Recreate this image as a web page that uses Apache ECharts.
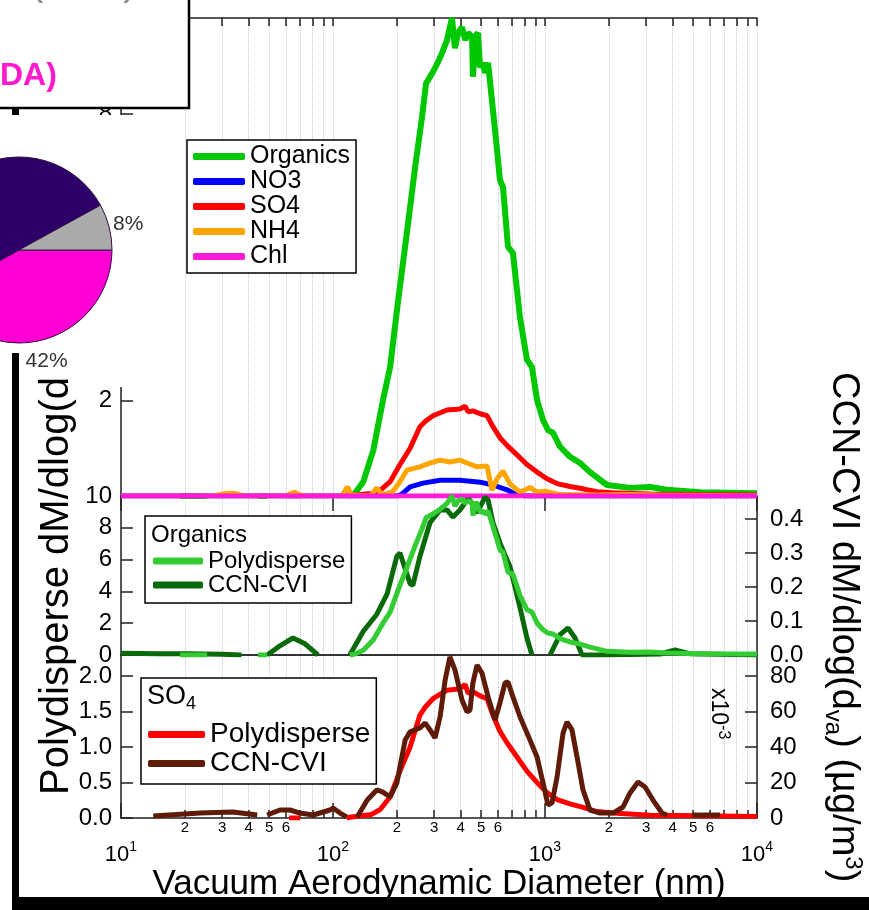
<!DOCTYPE html>
<html><head><meta charset="utf-8">
<script src="https://cdn.jsdelivr.net/npm/echarts@6/dist/echarts.min.js"></script>
<style>html,body{margin:0;padding:0;background:#fff}#c{width:869px;height:910px}</style>
</head><body><div id="c"></div>
<script>
// ---------- data (diameters in nm) ----------
const organicsD = [19,25.5,35,44.3,48.9,80,120,127,139,155,172,186,203,223,244,263,275,281,296,313,327,345,364,376,389,406,420,434,453,457,473,483,494,510,521,539,562,594,613,634,669,706,762,822,868,917,979,1033,1091,1178,1312,1463,1630,1960,2518,3128,3758,5383,10000];
const organicsV = [0,0,null,0,0,null,0,0.06,0.3,0.96,2.0,2.7,4.1,5.5,6.88,7.93,8.64,8.7,8.87,9.08,9.27,9.54,10.0,9.37,9.69,9.81,9.54,9.69,9.6,8.77,9.64,9.69,8.97,9.06,8.85,9.06,8.28,7.24,6.61,6.46,5.21,5.08,3.74,2.85,2.7,2.01,1.59,1.38,1.32,1.03,0.82,0.69,0.5,0.23,0.17,0.19,0.13,0.08,0.06];

const no3D = [10,200,207,214,231,266,320,397,494,568,662,738,800,10000];
const no3V = [0,0,0.02,0.06,0.19,0.27,0.33,0.33,0.29,0.23,0.13,0.02,0,0];

const so4D = [62,70,80,116,120,152,167,186,207,231,257,272,296,345,397,420,434,457,494,533,568,613,662,738,822,917,1021,1140,1312,1511,1759,2094,3128,5383,10000];
const so4V = [0,0,null,0,0.01,0.05,0.12,0.3,0.66,1.0,1.45,1.56,1.68,1.8,1.82,1.88,1.76,1.78,1.72,1.68,1.45,1.22,1.06,0.86,0.66,0.5,0.36,0.26,0.2,0.15,0.09,0.07,0.04,0.03,0.02];

const nh4D = [10,27,30,33,35,38,60,63,66,70,75,110,117,122,150,161,170,190,207,223,257,287,320,356,397,429,478,533,562,594,634,684,762,849,917,1000,1178,1759,2500,3500,10000];
const nh4V = [0,0,0.04,0.06,0.05,0,0,0.05,0.08,0.02,0,0,0.19,0.02,0,0.17,0.03,0.08,0.3,0.54,0.61,0.69,0.75,0.71,0.75,0.69,0.61,0.63,0.12,0.36,0.52,0.25,0.08,0.18,0.08,0.1,0.03,0.02,0.03,0.02,0];

const chlD = [10,100,1000,10000];
const chlV = [0,0,0,0];

const cvOrgD = [10,15,20,30,37,41,49,56.2,64.7,73.8,85,100,120,139,161,180,200,207,231,238,257,287,320,345,368,397,429,443,478,521,539,568,613,684,762,822,868,950,1056,1178,1284,1386,1496,1817,3500,4100,4800,10000];
const cvOrgV = [0.005,0.004,0.004,0.002,0,null,0,0.027,0.05,0.033,0,null,0,0.07,0.12,0.18,0.29,0.3,0.21,0.205,0.29,0.39,0.427,0.427,0.406,0.427,0.456,0.456,0.418,0.465,0.456,0.39,0.33,0.26,0.14,0.05,0,null,0,0.06,0.08,0.05,0,0,0.003,0.015,0.004,0];

const cvSo4D = [14.2,23.6,33.7,43.9,46,48.9,56.2,62.7,69.8,80.5,96.8,100,108,116,123,130,145,161,172,186,200,219,231,257,272,287,303,320,338,356,376,406,429,443,457,478,504,539,581,613,648,669,706,762,849,917,979,1033,1079,1140,1217,1271,1341,1416,1511,1630,1817,2094,2334,2518,2748,2965,3231,3563,3758,4300,4932,6685];
const cvSo4V = [1.1,2.8,3.4,1.7,null,1.7,4.5,4.5,2.8,1.7,4.5,5.6,2.8,0.6,null,0.6,10.1,15.8,14.6,11.8,19.7,43.9,48.5,50.7,53.5,49.6,45.1,57.0,77.7,90.7,83.4,66.5,59.7,60.8,76.1,86.2,81.7,68.2,55.2,64.8,76.1,76.6,68.2,57.0,44.0,34.4,19.7,7.3,8.5,23.1,47.9,54.1,49.6,34.4,15.8,4.5,2.8,2.8,6.2,14.1,20.3,17.5,10.1,2.8,1.7,null,1.7,1.7];

const pieNames = ['Factor 1','Factor 2','Factor 3'];
const pieValues = [42, 50, 8];

// axis tick positions (nm)
const tickNm = [10,20,30,40,50,60,70,80,90,100,200,300,400,500,600,700,800,900,1000,2000,3000,4000,5000,6000,7000,8000,9000,10000];
const minorLabelNm = [20,30,40,50,60,200,300,400,500,600,2000,3000,4000,5000,6000];
const majorNm = [10,100,1000,10000];

// ---------- helpers ----------
const FONT = '"Liberation Sans", Arial, sans-serif';
const lg = v => Math.log10(v);
const mk = (D, V) => D.map((d, i) => [lg(d), V[i] == null ? '-' : V[i]]);
const tickVals = tickNm.map(lg);
const minorVals = minorLabelNm.map(lg);
const majorVals = majorNm.map(lg);

const axisCol = '#222';
const xBase = (grid, pos) => ({type: 'value', gridIndex: grid, position: pos, min: 1, max: 4,
  axisLine: {show: false}, axisTick: {show: false}, axisLabel: {show: false}, splitLine: {show: false}});
const gridSplit = {show: true, lineStyle: {color: '#c8c8d0', type: 'dotted', width: 1}};

const yBase = (grid, pos, min, max, interval, fmt, margin) => ({
  type: 'value', gridIndex: grid, position: pos, min: min, max: max, interval: interval,
  axisLine: {show: true, lineStyle: {color: axisCol, width: 1.5}},
  axisTick: {show: true, inside: true, length: 12, lineStyle: {color: axisCol, width: 1.5}},
  axisLabel: {fontSize: 24, color: '#000', margin: margin, formatter: fmt, showMaxLabel: false, fontFamily: FONT},
  splitLine: {show: false}
});

const line = (name, x, y, D, V, color, w) => ({
  name: name, type: 'line', xAxisIndex: x, yAxisIndex: y, data: mk(D, V),
  showSymbol: false, symbol: 'none', connectNulls: false,
  lineStyle: {color: color, width: w || 5}, itemStyle: {color: color}, emphasis: {disabled: true}
});

const C = {org: '#00c800', no3: '#0000ff', so4: '#ff0000', nh4: '#ffa500', chl: '#ff1ad9',
  poly: '#33cc33', cvOrg: '#0a6a0a', cvSo4: '#5e1c08'};

const chart = echarts.init(document.getElementById('c'), null, {renderer: 'canvas'});
const option = {
  animation: false,
  backgroundColor: '#fff',
  textStyle: {fontFamily: FONT},
  grid: [
    {left: 121, top: 18, width: 636, height: 478},
    {left: 121, top: 496, width: 636, height: 159},
    {left: 121, top: 655, width: 636, height: 163}
  ],
  xAxis: [
    Object.assign(xBase(0, 'top'), {axisLine: {show: true, onZero: false, lineStyle: {color: axisCol, width: 1.5}},
      axisTick: {show: true, inside: true, length: 8, customValues: tickVals, lineStyle: {color: axisCol, width: 1.5}},
      splitLine: gridSplit}),
    Object.assign(xBase(0, 'top'), {axisTick: {show: true, inside: true, length: 15, customValues: majorVals, lineStyle: {color: axisCol, width: 1.5}}}),
    Object.assign(xBase(1, 'bottom'), {axisLine: {show: true, onZero: false, lineStyle: {color: '#333', width: 2}},
      axisTick: {show: false, customValues: tickVals}, splitLine: gridSplit}),
    Object.assign(xBase(2, 'bottom'), {axisLine: {show: true, onZero: false, lineStyle: {color: axisCol, width: 1.5}},
      axisTick: {show: true, inside: true, length: 8, customValues: tickVals, lineStyle: {color: axisCol, width: 1.5}},
      axisLabel: {show: true, customValues: minorVals, fontSize: 15, color: '#000', margin: 2,
        formatter: v => String(Math.round(Math.pow(10, v - Math.floor(v + 1e-9))))},
      splitLine: gridSplit}),
    Object.assign(xBase(2, 'bottom'), {
      axisTick: {show: true, inside: true, length: 15, customValues: majorVals, lineStyle: {color: axisCol, width: 1.5}},
      axisLabel: {show: true, customValues: majorVals, margin: 22, color: '#000',
        formatter: v => '{b|10}{s|' + Math.round(v) + '}',
        rich: {b: {fontSize: 22, lineHeight: 30, color: '#000', fontFamily: FONT},
               s: {fontSize: 14, lineHeight: 14, verticalAlign: 'top', color: '#000', fontFamily: FONT}}},
      name: 'Vacuum Aerodynamic Diameter (nm)', nameLocation: 'middle', nameGap: 44,
      nameTextStyle: {fontSize: 35, color: '#000', fontFamily: FONT}})
  ],
  yAxis: [
    yBase(0, 'left', 0, 10, 2, v => (v === 0 ? '' : String(v)), 9),
    Object.assign(yBase(1, 'left', 0, 10, 2, v => String(v), 9), {axisLabel: {fontSize: 24, color: '#000', margin: 9, fontFamily: FONT}}),
    yBase(1, 'right', 0, 0.468, 0.1, v => v.toFixed(1), 13),
    yBase(2, 'left', 0, 2.296, 0.5, v => v.toFixed(1), 9),
    yBase(2, 'right', 0, 91.8, 20, v => String(v), 13)
  ],
  legend: [
    {data: ['Organics', 'NO3', 'SO4', 'NH4', 'Chl'], left: 187, top: 140, orient: 'vertical',
     icon: 'roundRect', itemWidth: 52, itemHeight: 7, itemGap: 0, selectedMode: false,
     textStyle: {fontSize: 25, lineHeight: 25, color: '#000', fontFamily: FONT},
     padding: [4, 6, 4, 6], borderColor: '#000', borderWidth: 1.5, backgroundColor: '#fff'},
    {data: [{name: 'Polydisperse', itemStyle: {color: C.poly}}, {name: 'CCN-CVI', itemStyle: {color: C.cvOrg}}],
     left: 145, top: 516, orient: 'vertical', icon: 'roundRect', itemWidth: 50, itemHeight: 7, itemGap: 0, selectedMode: false,
     textStyle: {fontSize: 24, lineHeight: 24, color: '#000', fontFamily: FONT},
     padding: [33, 6, 6, 8], borderColor: '#000', borderWidth: 1.5, backgroundColor: '#fff'},
    {data: [{name: 'Polydisperse', itemStyle: {color: C.so4}}, {name: 'CCN-CVI', itemStyle: {color: C.cvSo4}}],
     left: 141, top: 678, orient: 'vertical', icon: 'roundRect', itemWidth: 57, itemHeight: 7, itemGap: 0, selectedMode: false,
     textStyle: {fontSize: 28, lineHeight: 29, color: '#000', fontFamily: FONT},
     padding: [42, 6, 6, 7], borderColor: '#000', borderWidth: 1.5, backgroundColor: '#fff'}
  ],
  series: [
    line('Organics', 0, 0, organicsD, organicsV, C.org, 6),
    line('NO3', 0, 0, no3D, no3V, C.no3, 5),
    line('SO4', 0, 0, so4D, so4V, C.so4, 5),
    line('NH4', 0, 0, nh4D, nh4V, C.nh4, 5),
    line('Chl', 0, 0, chlD, chlV, C.chl, 5),
    line('CCN-CVI', 2, 2, cvOrgD, cvOrgV, C.cvOrg, 5),
    line('Polydisperse', 2, 1, organicsD, organicsV, C.poly, 5),
    line('Polydisperse', 3, 3, so4D, so4V, C.so4, 5),
    line('CCN-CVI', 3, 4, cvSo4D, cvSo4V, C.cvSo4, 5),
    {type: 'pie', z: 10, center: [19, 250], radius: 93, startAngle: 0, clockwise: true,
     avoidLabelOverlap: false, silent: true,
     itemStyle: {borderColor: '#301040', borderWidth: 1},
     label: {show: true, position: 'outside', formatter: '{d}%', fontSize: 21, color: '#333', distanceToLabelLine: 4, fontFamily: FONT},
     labelLine: {show: false, length: 0, length2: 0},
     labelLayout: p => (p.dataIndex === 0 ? {dx: -26} : {dy: -3}),
     data: [
       {name: pieNames[0], value: pieValues[0], itemStyle: {color: '#ff00d4'}, labelLine: {show: false, length: 22, length2: 0}},
       {name: pieNames[1], value: pieValues[1], itemStyle: {color: '#2c0068'}, label: {show: false}},
       {name: pieNames[2], value: pieValues[2], itemStyle: {color: '#aaaaaa'}}
     ]}
  ],
  graphic: [
    {type: 'rect', z: 8, shape: {x: 12, y: 104, width: 7, height: 806}, style: {fill: '#000'}},
    {type: 'rect', z: 8, shape: {x: 12, y: 897, width: 857, height: 13}, style: {fill: '#000'}},
    {type: 'rect', z: 9, shape: {x: 0, y: 115, width: 30, height: 238}, style: {fill: '#fff'}},
    {type: 'rect', z: 9, shape: {x: 30, y: 115, width: 70, height: 255}, style: {fill: '#fff'}},
    {type: 'rect', z: 9, shape: {x: 100, y: 115, width: 50, height: 272}, style: {fill: '#fff'}},
    {type: 'rect', z: 20, shape: {x: -4, y: -4, width: 193, height: 112}, style: {fill: '#fff', stroke: '#000', lineWidth: 2.5}},
    {type: 'text', z: 21, x: 30, y: 4, style: {text: '(   -   )', fontSize: 40, fill: '#8a8a8a', fontFamily: FONT, align: 'left', verticalAlign: 'bottom'}},
    {type: 'text', z: 21, x: 0, y: 76, style: {text: 'DA)', fontSize: 32, fontWeight: 'bold', fill: '#ff1acd', fontFamily: FONT, align: 'left', verticalAlign: 'middle'}},
    {type: 'text', z: 5, x: 57, y: 795, rotation: Math.PI / 2,
     style: {text: 'Polydisperse dM/dlog(d', fontSize: 40, fill: '#000', fontFamily: FONT, align: 'left', verticalAlign: 'middle'}},
    {type: 'text', z: 5, x: 843, y: 372, rotation: -Math.PI / 2,
     style: {text: '{n|CCN-CVI dM/dlog(d}{s|va}{n|) (µg/m}{p|3}{n|)}', align: 'left', verticalAlign: 'middle',
       rich: {n: {fontSize: 38, lineHeight: 44, fill: '#000', fontFamily: FONT},
              s: {fontSize: 24, lineHeight: 24, verticalAlign: 'bottom', fill: '#000', fontFamily: FONT},
              p: {fontSize: 24, lineHeight: 24, verticalAlign: 'top', fill: '#000', fontFamily: FONT}}}},
    {type: 'text', z: 5, x: 718, y: 688, rotation: -Math.PI / 2,
     style: {text: '{a|x10}{b|-3}', align: 'left', verticalAlign: 'middle',
       rich: {a: {fontSize: 23, lineHeight: 26, fill: '#000', fontFamily: FONT},
              b: {fontSize: 16, lineHeight: 16, verticalAlign: 'top', fill: '#000', fontFamily: FONT}}}},
    {type: 'text', z: 10, x: 151, y: 535, style: {text: 'Organics', fontSize: 24, fill: '#000', fontFamily: FONT, align: 'left', verticalAlign: 'middle'}},
    {type: 'text', z: 10, x: 147, y: 697, style: {text: '{a|SO}{b|4}', align: 'left', verticalAlign: 'middle',
       rich: {a: {fontSize: 27, lineHeight: 32, fill: '#000', fontFamily: FONT},
              b: {fontSize: 18, lineHeight: 18, verticalAlign: 'bottom', fill: '#000', fontFamily: FONT}}}}
  ]
};
chart.setOption(option);
</script></body></html>
